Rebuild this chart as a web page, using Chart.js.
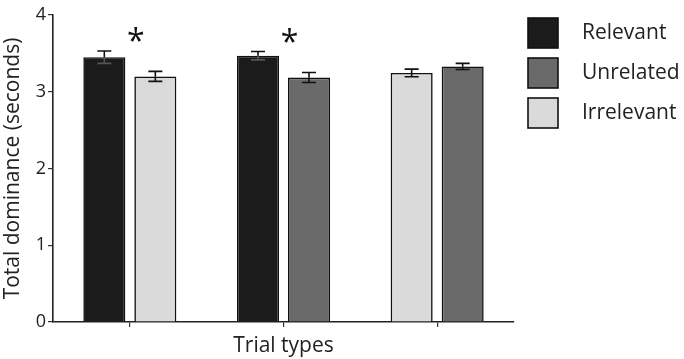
<!DOCTYPE html>
<html>
<head>
<meta charset="utf-8">
<script src="https://cdn.jsdelivr.net/npm/chart.js@4/dist/chart.umd.min.js"></script>
<style>
  html, body { margin: 0; padding: 0; background: #ffffff; }
  #wrap { position: relative; width: 684px; height: 359px; }
</style>
</head>
<body>
<div id="wrap"><canvas id="c" width="684" height="359"></canvas></div>
<script>
// ---- data ----
const categories = ["Relevant vs Irrelevant", "Relevant vs Unrelated", "Irrelevant vs Unrelated"];
const relevantValues   = [3.45, 3.47, null];
const irrelevantValues = [3.20, null, 3.245];
const unrelatedValues  = [null, 3.185, 3.33];
const relevantErrors   = [0.08, 0.055, null];
const irrelevantErrors = [0.065, null, 0.05];
const unrelatedErrors  = [null, 0.065, 0.04];
const significant      = [true, true, false];
const yTickValues      = [0, 1, 2, 3, 4];
const legendOrder      = ["Relevant", "Unrelated", "Irrelevant"];
const yTitle = "Total dominance (seconds)";
const xTitle = "Trial types";

const FONT = "'Open Sans', 'Noto Sans', sans-serif";
const colors = { Relevant: "#1b1b1b", Unrelated: "#6a6a6a", Irrelevant: "#dadada" };

const errorBarPlugin = {
  id: "errorBars",
  afterDatasetsDraw(chart) {
    const ctx = chart.ctx;
    const y = chart.scales.y;
    chart.data.datasets.forEach((ds, di) => {
      const meta = chart.getDatasetMeta(di);
      ds.errors.forEach((e, i) => {
        const v = ds.data[i];
        if (v == null || e == null) return;
        const bar = meta.data[i];
        const yTop = y.getPixelForValue(v + e);
        const yBot = y.getPixelForValue(v - e);
        const half = 7;
        ctx.save();
        ctx.lineWidth = 1.6;
        // part inside the bar
        ctx.strokeStyle = ds.label === "Relevant" ? "#555" : "#111";
        ctx.beginPath();
        ctx.moveTo(bar.x, y.getPixelForValue(v)); ctx.lineTo(bar.x, yBot);
        ctx.moveTo(bar.x - half, yBot); ctx.lineTo(bar.x + half, yBot);
        ctx.stroke();
        // part above the bar
        ctx.strokeStyle = "#111";
        ctx.beginPath();
        ctx.moveTo(bar.x - half, yTop); ctx.lineTo(bar.x + half, yTop);
        ctx.moveTo(bar.x, yTop); ctx.lineTo(bar.x, y.getPixelForValue(v));
        ctx.stroke();
        ctx.restore();
      });
    });
    // significance asterisks
    const x = chart.scales.x;
    significant.forEach((s, i) => {
      if (!s) return;
      let top = Infinity;
      chart.data.datasets.forEach(ds => {
        const v = ds.data[i], e = ds.errors[i];
        if (v != null) top = Math.min(top, y.getPixelForValue(v + (e || 0)));
      });
      ctx.save();
      ctx.fillStyle = "#111";
      ctx.font = "32px " + FONT;
      ctx.textAlign = "center";
      ctx.textBaseline = "middle";
      ctx.fillText("*", x.getPixelForValue(i) + 6, top - 8);
      ctx.restore();
    });
  }
};

const legendPlugin = {
  id: "sideLegend",
  afterDraw(chart) {
    const ctx = chart.ctx;
    const area = chart.chartArea;
    const x0 = area.right + 14;
    ctx.save();
    legendOrder.forEach((name, k) => {
      const cy = area.top + 18 + k * 40;
      ctx.fillStyle = colors[name];
      ctx.fillRect(x0, cy - 15, 30, 30);
      ctx.strokeStyle = "#111";
      ctx.lineWidth = 1.6;
      ctx.strokeRect(x0, cy - 15, 30, 30);
      ctx.fillStyle = "#222";
      ctx.font = "21px " + FONT;
      ctx.textAlign = "left";
      ctx.textBaseline = "middle";
      ctx.fillText(name, x0 + 54, cy);
    });
    ctx.restore();
  }
};

const mk = (label, data, errors) => ({
  label, data, errors,
  backgroundColor: colors[label],
  borderColor: "#111",
  borderWidth: 1.6,
  skipNull: true,
  categoryPercentage: 0.664,
  barPercentage: 0.824
});

new Chart(document.getElementById("c"), {
  type: "bar",
  data: {
    labels: categories,
    datasets: [
      mk("Relevant", relevantValues, relevantErrors),
      mk("Irrelevant", irrelevantValues, irrelevantErrors),
      mk("Unrelated", unrelatedValues, unrelatedErrors)
    ]
  },
  options: {
    responsive: false,
    animation: false,
    layout: { padding: { left: 0, right: 170, top: 15, bottom: 0 } },
    plugins: { legend: { display: false }, tooltip: { enabled: false } },
    scales: {
      x: {
        grid: { display: true, offset: false, drawOnChartArea: false, drawTicks: true, tickLength: 5, color: "#333", lineWidth: 1.2 },
        border: { display: true, color: "#222", width: 1.6 },
        ticks: { display: false },
        title: { display: true, text: xTitle, color: "#222", font: { family: FONT, size: 21 }, padding: { top: 4, bottom: 0 } },
        afterFit: s => { s.height = 37; }
      },
      y: {
        min: 0, max: 4,
        afterBuildTicks: s => { s.ticks = yTickValues.map(v => ({ value: v })); },
        grid: { display: true, drawOnChartArea: false, drawTicks: true, tickLength: 5, color: "#333", lineWidth: 1.2 },
        border: { display: true, color: "#222", width: 1.6 },
        ticks: { color: "#222", font: { family: FONT, size: 18 }, padding: 2 },
        title: { display: true, text: yTitle, color: "#222", font: { family: FONT, size: 21 }, padding: { top: 0, bottom: 2 } },
        afterFit: s => { s.width = 53; }
      }
    }
  },
  plugins: [errorBarPlugin, legendPlugin]
});
</script>
</body>
</html>
